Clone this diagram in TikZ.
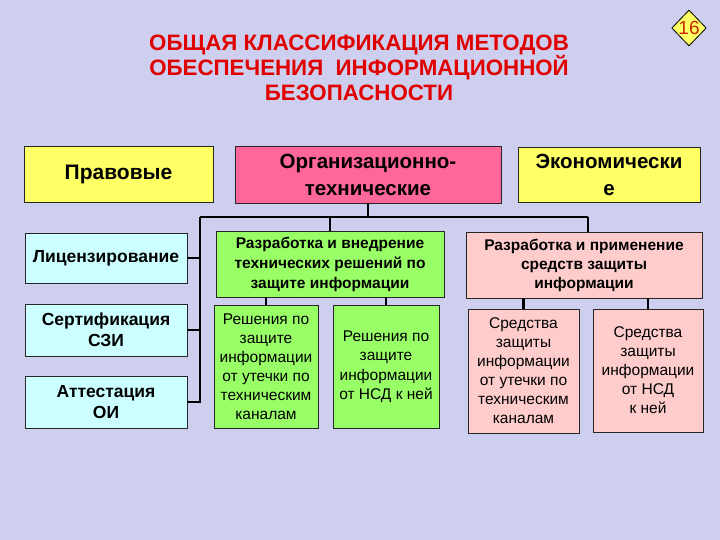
\documentclass[tikz,border=0pt]{standalone}
\usepackage{fontspec}
\setmainfont{Liberation Sans}
\usetikzlibrary{shapes.geometric}

\definecolor{bg}{RGB}{206,206,238}
\definecolor{yel}{RGB}{255,255,102}
\definecolor{rose}{RGB}{255,102,153}
\definecolor{cyanbox}{RGB}{204,255,255}
\definecolor{grn}{RGB}{153,255,102}
\definecolor{pinkbox}{RGB}{255,204,204}
\definecolor{titlered}{RGB}{225,0,0}
\definecolor{numred}{RGB}{200,40,0}

\begin{document}
\begin{tikzpicture}[x=1pt,y=-1pt,
  box/.style={draw=black!85, line width=0.8pt, align=center, inner sep=0pt},
  link/.style={line width=2.3pt}]

  \fill[bg] (0,0) rectangle (720,540);
  \useasboundingbox (0,0) rectangle (720,540);

  \node[text=titlered, align=center, font=\bfseries\fontsize{22.3}{24.5}\selectfont] (t) at (359,67.5)
    {ОБЩАЯ КЛАССИФИКАЦИЯ МЕТОДОВ\\ОБЕСПЕЧЕНИЯ~~ИНФОРМАЦИОННОЙ\\БЕЗОПАСНОСТИ};
  \node[diamond, draw, fill=yel, line width=0.8pt, minimum width=34, minimum height=36, inner sep=0pt,
    text=numred, font=\fontsize{19}{19}\selectfont] (n) at (689,28) {16};

  % first level
  \node[box, fill=yel, minimum width=189, minimum height=56, font=\bfseries\fontsize{21}{26}\selectfont] (a) at (118.5,174) {Правовые};
  \node[box, fill=rose, minimum width=266, minimum height=57, text width=255, font=\bfseries\fontsize{20.5}{27}\selectfont] (b) at (368,174.5) {Организационно-\\технические};
  \node[box, fill=yel, minimum width=182, minimum height=55, text width=178, font=\bfseries\fontsize{20.5}{27}\selectfont] (c) at (609,174.5) {Экономически\\е};

  % left column
  \node[box, fill=cyanbox, minimum width=162, minimum height=50, font=\bfseries\fontsize{17.5}{20}\selectfont] (d) at (106,258) {Лицензирование};
  \node[box, fill=cyanbox, minimum width=162, minimum height=52, font=\bfseries\fontsize{17.5}{21}\selectfont] (e) at (106,330) {Сертификация\\СЗИ};
  \node[box, fill=cyanbox, minimum width=162, minimum height=52, font=\bfseries\fontsize{17.5}{21}\selectfont] (f) at (106,402) {Аттестация\\ОИ};

  % second level
  \node[box, fill=grn, minimum width=228, minimum height=66, font=\bfseries\fontsize{15.5}{20}\selectfont] (g) at (330,264) {Разработка и внедрение\\технических решений по\\защите информации};
  \node[box, fill=pinkbox, minimum width=236, minimum height=66, font=\bfseries\fontsize{15.5}{19}\selectfont] (h) at (584,265) {Разработка и применение\\средств защиты\\информации};

  % third level
  \node[box, fill=grn, minimum width=104, minimum height=123, font=\fontsize{15.5}{19}\selectfont] (i) at (266,366.5) {Решения по\\защите\\информации\\от утечки по\\техническим\\каналам};
  \node[box, fill=grn, minimum width=106, minimum height=123, font=\fontsize{15.5}{19.5}\selectfont] (j) at (386,366.5) {Решения по\\защите\\информации\\от НСД к ней};
  \node[box, fill=pinkbox, minimum width=111, minimum height=124, font=\fontsize{15.5}{19}\selectfont] (k) at (523.5,371) {Средства\\защиты\\информации\\от утечки по\\техническим\\каналам};
  \node[box, fill=pinkbox, minimum width=110, minimum height=123, font=\fontsize{15.5}{19}\selectfont] (l) at (648,370.5) {Средства\\защиты\\информации\\от НСД\\к ней};

  \coordinate (p) at (200,217);
  \coordinate (q) at (588,217);

  \draw[link] (p) -- (q);
  \draw[link] (b.south) -- (b.south |- p);
  \draw[link] (g.north) -- (g.north |- p);
  \draw[link] (h.north -| q) -- (q);
  \draw[link] (p) |- (d.east);
  \draw[link] (p) |- (e.east);
  \draw[link] (p) |- (f.east);
  \draw[link] (i.north) -- (i.north |- g.south);
  \draw[link] (j.north) -- (j.north |- g.south);
  \draw[link] (k.north) -- (k.north |- h.south);
  \draw[link] (l.north) -- (l.north |- h.south);

\end{tikzpicture}
\end{document}
